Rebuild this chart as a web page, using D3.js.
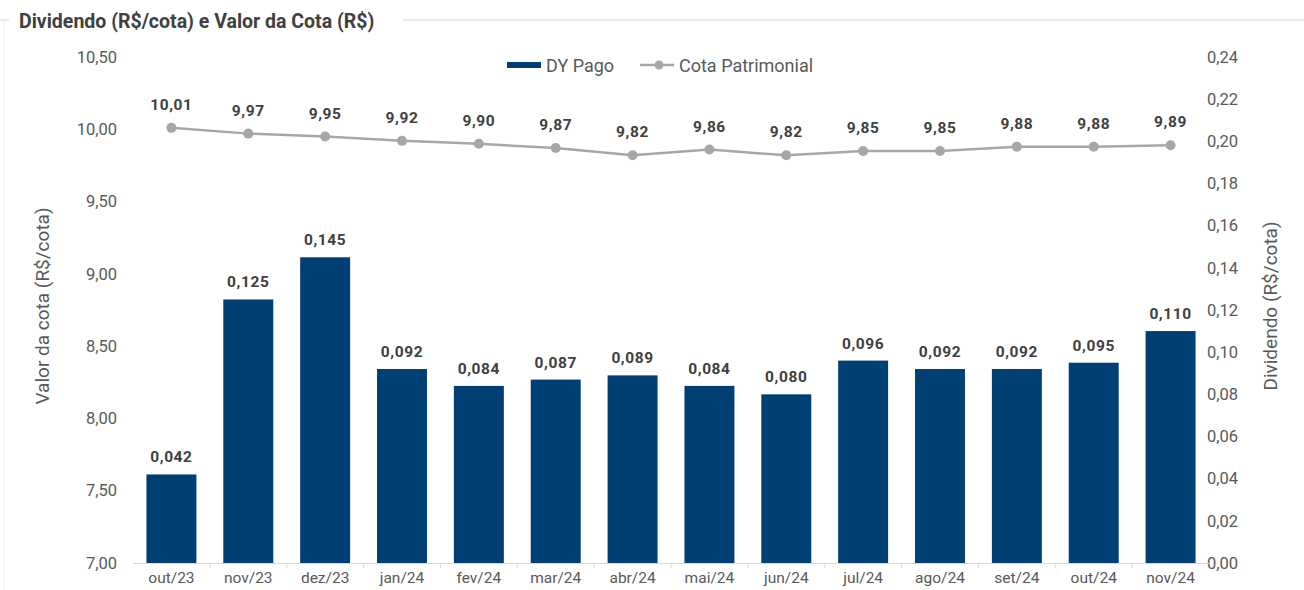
<!DOCTYPE html>
<html>
<head>
<meta charset="utf-8">
<script src="https://cdn.jsdelivr.net/npm/d3@7"></script>
<style>
  body { margin: 0; background: #fff; }
  svg { font-family: Roboto, "Open Sans", sans-serif; }
</style>
</head>
<body>
<svg width="1304" height="590"></svg>
<script>
var months = ["out/23", "nov/23", "dez/23", "jan/24", "fev/24", "mar/24", "abr/24",
              "mai/24", "jun/24", "jul/24", "ago/24", "set/24", "out/24", "nov/24"];
var dividendo = [0.042, 0.125, 0.145, 0.092, 0.084, 0.087, 0.089,
                 0.084, 0.080, 0.096, 0.092, 0.092, 0.095, 0.110];
var cota = [10.01, 9.97, 9.95, 9.92, 9.90, 9.87, 9.82,
            9.86, 9.82, 9.85, 9.85, 9.88, 9.88, 9.89];
var leftTicks = [7.0, 7.5, 8.0, 8.5, 9.0, 9.5, 10.0, 10.5];
var rightTicks = [0, 0.02, 0.04, 0.06, 0.08, 0.10, 0.12, 0.14, 0.16, 0.18, 0.20, 0.22, 0.24];

var svg = d3.select("svg");
var plotTop = 57, plotBottom = 563, plotLeft = 133, plotRight = 1209;

var fmt2 = function(v) { return d3.format(".2f")(v).replace(".", ","); };
var fmt3 = function(v) { return d3.format(".3f")(v).replace(".", ","); };

var x = d3.scaleBand().domain(months).range([plotLeft, plotRight]).paddingInner(0.35).paddingOuter(0.175);
var yL = d3.scaleLinear().domain([7, 10.5]).range([plotBottom, plotTop]);
var yR = d3.scaleLinear().domain([0, 0.24]).range([plotBottom, plotTop]);

// panel frame with title
svg.append("path")
  .attr("d", "M0,20 H1304")
  .attr("stroke", "#e3e3e3").attr("stroke-width", 1.5).attr("fill", "none");
svg.append("rect").attr("x", 9).attr("y", 6).attr("width", 394).attr("height", 28).attr("fill", "#fff");
svg.append("path")
  .attr("d", "M4,20 V590")
  .attr("stroke", "#f0f0f0").attr("stroke-width", 1).attr("fill", "none");
svg.append("text")
  .attr("x", 19).attr("y", 28)
  .attr("font-size", 19.5).attr("font-weight", "bold").attr("fill", "#404040")
  .text("Dividendo (R$/cota) e Valor da Cota (R$)");

// left axis
var axL = svg.append("g").attr("transform", "translate(" + plotLeft + ",0)")
  .call(d3.axisLeft(yL).tickValues(leftTicks).tickFormat(fmt2).tickSize(0).tickPadding(16));
axL.select(".domain").remove();
axL.selectAll("text").attr("font-size", 16.5).attr("fill", "#595959").attr("font-family", "Roboto");

// right axis
var axR = svg.append("g").attr("transform", "translate(" + plotRight + ",0)")
  .call(d3.axisRight(yR).tickValues(rightTicks).tickFormat(fmt2).tickSize(0).tickPadding(-2));
axR.select(".domain").remove();
axR.selectAll("text").attr("font-size", 16.5).attr("fill", "#595959").attr("font-family", "Roboto");

// bottom axis
var axB = svg.append("g").attr("transform", "translate(0," + plotBottom + ")")
  .call(d3.axisBottom(x).tickSize(0).tickPadding(9));
axB.select(".domain").attr("stroke", "#d9d9d9").attr("d", "M" + plotLeft + ",0.5 H" + plotRight);
axB.selectAll("text").attr("font-size", 15.5).attr("fill", "#595959").attr("font-family", "Roboto");
svg.append("g").selectAll("line")
  .data(months.slice(1))
  .join("line")
  .attr("x1", function(d) { return x(d) - x.step() * x.paddingInner() / 2; })
  .attr("x2", function(d) { return x(d) - x.step() * x.paddingInner() / 2; })
  .attr("y1", plotBottom).attr("y2", plotBottom + 5)
  .attr("stroke", "#d9d9d9");

// axis titles
svg.append("text")
  .attr("transform", "translate(49,306) rotate(-90)")
  .attr("text-anchor", "middle").attr("font-size", 19).attr("fill", "#595959")
  .text("Valor da cota (R$/cota)");
svg.append("text")
  .attr("transform", "translate(1277,306) rotate(-90)")
  .attr("text-anchor", "middle").attr("font-size", 19).attr("fill", "#595959")
  .text("Dividendo (R$/cota)");

// bars
svg.append("g").selectAll("rect")
  .data(dividendo)
  .join("rect")
  .attr("x", function(d, i) { return x(months[i]); })
  .attr("y", function(d) { return yR(d); })
  .attr("width", x.bandwidth())
  .attr("height", function(d) { return plotBottom - yR(d); })
  .attr("fill", "#003f73");

svg.append("g").selectAll("text")
  .data(dividendo)
  .join("text")
  .attr("x", function(d, i) { return x(months[i]) + x.bandwidth() / 2; })
  .attr("y", function(d) { return yR(d) - 12; })
  .attr("text-anchor", "middle").attr("font-size", 15.5).attr("font-weight", "bold")
  .attr("letter-spacing", 0.6)
  .attr("fill", "#404040")
  .text(fmt3);

// line
var line = d3.line()
  .x(function(d, i) { return x(months[i]) + x.bandwidth() / 2; })
  .y(function(d) { return yL(d); });
svg.append("path")
  .datum(cota)
  .attr("d", line)
  .attr("fill", "none").attr("stroke", "#a6a6a6").attr("stroke-width", 2.5);
svg.append("g").selectAll("circle")
  .data(cota)
  .join("circle")
  .attr("cx", function(d, i) { return x(months[i]) + x.bandwidth() / 2; })
  .attr("cy", function(d) { return yL(d); })
  .attr("r", 5)
  .attr("fill", "#a6a6a6");
svg.append("g").selectAll("text")
  .data(cota)
  .join("text")
  .attr("x", function(d, i) { return x(months[i]) + x.bandwidth() / 2; })
  .attr("y", function(d) { return yL(d) - 18; })
  .attr("text-anchor", "middle").attr("font-size", 15.5).attr("font-weight", "bold")
  .attr("letter-spacing", 0.6)
  .attr("fill", "#404040")
  .text(fmt2);

// legend
var lg = svg.append("g");
lg.append("rect").attr("x", 507).attr("y", 62).attr("width", 34).attr("height", 6).attr("fill", "#003f73");
lg.append("text").attr("x", 546).attr("y", 72).attr("font-size", 18).attr("fill", "#595959").text("DY Pago");
lg.append("line").attr("x1", 640).attr("x2", 674).attr("y1", 65).attr("y2", 65)
  .attr("stroke", "#a6a6a6").attr("stroke-width", 2.5);
lg.append("circle").attr("cx", 659).attr("cy", 65).attr("r", 4.5).attr("fill", "#a6a6a6");
lg.append("text").attr("x", 679).attr("y", 72).attr("font-size", 18).attr("fill", "#595959").text("Cota Patrimonial");
</script>
</body>
</html>
